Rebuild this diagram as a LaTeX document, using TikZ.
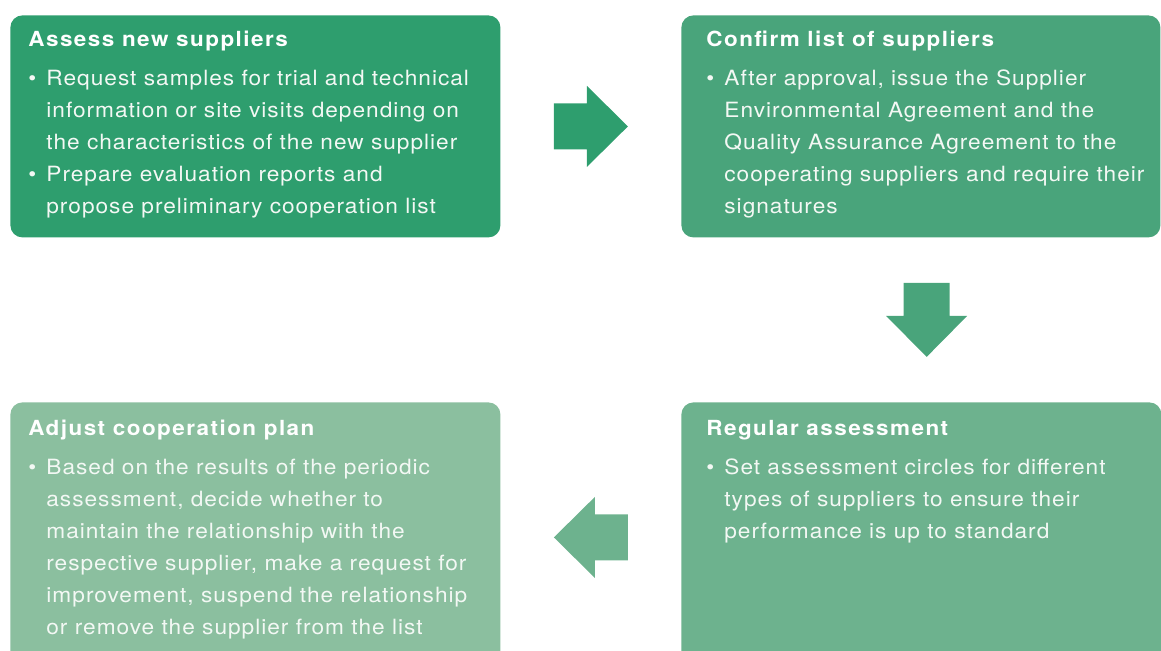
\documentclass[tikz,border=0pt]{standalone}
\usepackage{fontspec}
\setmainfont{TeX Gyre Heros}[FakeStretch=1.08, LetterSpace=4.7]
\usetikzlibrary{positioning,calc}

\definecolor{stepone}{HTML}{2E9E6E}
\definecolor{steptwo}{HTML}{49A47B}
\definecolor{stepthree}{HTML}{6DB28E}
\definecolor{stepfour}{HTML}{8BBF9F}
\definecolor{bodytext}{HTML}{F3F8F4}

\tikzset{
  stepbox/.style={anchor=north west, rectangle, rounded corners=6pt, inner sep=0pt,
    minimum width=245pt, minimum height=111pt},
  steptext/.style={anchor=base west, inner sep=0pt, text=bodytext,
    font=\fontsize{10.5}{16}\selectfont}
}

% block arrow: centre, angle, colour
\newcommand{\blockarrow}[3]{%
  \fill[#3, shift={#1}, rotate=#2] (-37,-23) -- (-4,-23) -- (-4,-40.5) -- (37,0)
    -- (-4,40.5) -- (-4,23) -- (-37,23) -- cycle;}

% title line of a box
\newcommand{\steptitle}[1]{\multicolumn{2}{@{}l@{}}{\color{white}\fontsize{10.4}{16}\selectfont\addfontfeature{LetterSpace=7}\bfseries #1}\\[3.5pt]}

\begin{document}
\begin{tikzpicture}[x=0.5pt, y=-0.5pt]
  \useasboundingbox (0,0) rectangle (1161,650);
  \clip (0,0) rectangle (1161,650);

  % Draw the four boxes
  \node[stepbox, fill=stepone] (assess) at (10,15) {};
  \node[stepbox, fill=steptwo, minimum width=239.5pt] (confirm) at (681,15) {};
  \node[stepbox, fill=stepthree, minimum width=240pt, minimum height=135pt] (regular) at (681,402) {};
  \node[stepbox, fill=stepfour, minimum height=135pt] (adjust) at (10,402) {};

  % Texts of the boxes
  \node[steptext] (assess text) at ([shift={(18,31)}]assess.north west) {%
    \begin{tabular}[t]{@{}p{9pt}@{}l@{}}
      \steptitle{Assess new suppliers}
      \textbullet & Request samples for trial and technical\\
                  & information or site visits depending on\\
                  & the characteristics of the new supplier\\
      \textbullet & Prepare evaluation reports and\\
                  & propose preliminary cooperation list
    \end{tabular}};
  \node[steptext] (confirm text) at ([shift={(25,31)}]confirm.north west) {%
    \begin{tabular}[t]{@{}p{9pt}@{}l@{}}
      \steptitle{Confirm list of suppliers}
      \textbullet & After approval, issue the Supplier\\
                  & Environmental Agreement and the\\
                  & Quality Assurance Agreement to the\\
                  & cooperating suppliers and require their\\
                  & signatures
    \end{tabular}};
  \node[steptext] (regular text) at ([shift={(25,33)}]regular.north west) {%
    \begin{tabular}[t]{@{}p{9pt}@{}l@{}}
      \steptitle{Regular assessment}
      \textbullet & Set assessment circles for different\\
                  & types of suppliers to ensure their\\
                  & performance is up to standard
    \end{tabular}};
  \node[steptext] (adjust text) at ([shift={(18,33)}]adjust.north west) {%
    \begin{tabular}[t]{@{}p{9pt}@{}l@{}}
      \steptitle{Adjust cooperation plan}
      \textbullet & Based on the results of the periodic\\
                  & assessment, decide whether to\\
                  & maintain the relationship with the\\
                  & respective supplier, make a request for\\
                  & improvement, suspend the relationship\\
                  & or remove the supplier from the list
    \end{tabular}};

  % Draw the arrows between the boxes
  \blockarrow{($(assess.east)!0.5!(confirm.west)$)}{0}{stepone}
  \blockarrow{($(confirm.south)!0.5!(regular.north)+(5.5,0)$)}{-90}{steptwo}
  \blockarrow{($(regular.west)!0.5!(adjust.east)$)}{180}{stepthree}
\end{tikzpicture}
\end{document}
